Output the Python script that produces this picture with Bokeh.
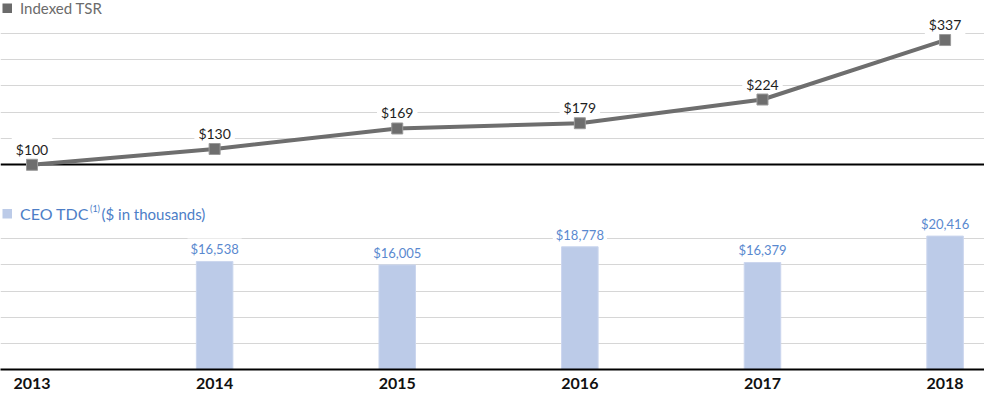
from bokeh.plotting import figure
from bokeh.models import Range1d, FixedTicker, Label, BoxAnnotation
from bokeh.embed import file_html
from bokeh.resources import INLINE
from bokeh.core.properties import value

# ---- data ----
years = [2013, 2014, 2015, 2016, 2017, 2018]
tsr = [100, 130, 169, 179, 224, 337]
tsr_labels = ["$100", "$130", "$169", "$179", "$224", "$337"]
tdc_years = [2014, 2015, 2016, 2017, 2018]
tdc = [16538, 16005, 18778, 16379, 20416]
tdc_labels = ["$16,538", "$16,005", "$18,778", "$16,379", "$20,416"]
tsr_grid = [150, 200, 250, 300, 350]
tdc_grid = [4000, 8000, 12000, 16000, 20000]

# ---- layout constants ----
FW = 984          # frame width
FH = 369          # frame height (bottom = TDC baseline)
PX_YEAR = 182.6
x_start = years[0] - 31.5 / PX_YEAR
x_end = years[-1] + (FW - 944.6) / PX_YEAR
tdc_top = FH * 20000 / 130.7
tsr_per_px = 250 / 131.6
tsr_lo = 100 - (FH - 164.3) * tsr_per_px
tsr_hi = 350 + 32.7 * tsr_per_px

FONT = "Lato"
GRID = "#d6d6d6"
LINE = "#6e6e6e"
BAR = "#bccbe8"
BLUE_TXT = "#5a89cf"
BLUE_LEG = "#4d7ec7"

p = figure(frame_width=FW, frame_height=FH, min_border=0,
           x_range=Range1d(x_start, x_end), y_range=Range1d(0, tdc_top),
           output_backend="svg", toolbar_location=None,
           x_axis_location="below", y_axis_location=None)
p.extra_y_ranges = {"tsr": Range1d(tsr_lo, tsr_hi)}
p.outline_line_color = None
p.grid.visible = False
p.background_fill_color = "white"
p.border_fill_color = "white"

# gridlines
p.hspan(y=tsr_grid, line_color=GRID, line_width=1.2, y_range_name="tsr")
p.hspan(y=[tsr[0]], line_color="black", line_width=2, y_range_name="tsr")
p.hspan(y=tdc_grid, line_color=GRID, line_width=1.2)

# bars
p.vbar(x=tdc_years, top=tdc, width=0.2, fill_color=BAR, line_color="#cbd6ee", line_width=1)
p.text(x=tdc_years, y=tdc, text=tdc_labels, text_align="center", text_baseline="bottom",
       y_offset=-1, text_color=BLUE_TXT, text_font=value(FONT), text_font_size="13px",
       background_fill_color="white", padding=3)

# TSR labels (under line)
p.text(x=years, y=tsr, text=tsr_labels, text_align="center", text_baseline="bottom",
       y_offset=-3, text_color="#1e1e1e", text_font=value(FONT), text_font_size="14px",
       background_fill_color="white", padding=4, y_range_name="tsr")

# TSR line
p.line(x=years, y=tsr, line_color=LINE, line_width=4, y_range_name="tsr")
p.scatter(x=years, y=tsr, marker="square", size=11, fill_color=LINE, line_color="#9a9a9a",
          line_width=1, y_range_name="tsr")

# axis
ax = p.xaxis[0]
ax.ticker = FixedTicker(ticks=years)
ax.axis_line_color = "black"
ax.axis_line_width = 2
ax.major_tick_line_color = None
ax.minor_tick_line_color = None
ax.major_label_standoff = 2
ax.major_label_text_font = FONT
ax.major_label_text_font_style = "bold"
ax.major_label_text_font_size = "16px"
ax.major_label_text_color = "#111111"

# legends
ty = FH - 7.7
p.add_layout(BoxAnnotation(left=2, right=11.5, bottom=ty - 4.7, top=ty + 4.7,
                           left_units="screen", right_units="screen",
                           bottom_units="screen", top_units="screen",
                           fill_color="#6b6b6b", fill_alpha=1, line_color=None))
p.add_layout(Label(x=19.5, y=ty, x_units="screen", y_units="screen", text="Indexed TSR",
                   text_baseline="middle", text_font=FONT, text_font_size="15px",
                   text_color="#6b6b6b"))

ly = FH - 213.3
p.add_layout(BoxAnnotation(left=2, right=11.5, bottom=ly - 4.7, top=ly + 4.7,
                           left_units="screen", right_units="screen",
                           bottom_units="screen", top_units="screen",
                           fill_color=BAR, fill_alpha=1, line_color=None))
p.add_layout(Label(x=19.5, y=ly, x_units="screen", y_units="screen", text="CEO TDC",
                   text_baseline="middle", text_font=FONT, text_font_size="16px",
                   text_color=BLUE_LEG))
p.add_layout(Label(x=89.5, y=ly + 5, x_units="screen", y_units="screen", text="(1)",
                   text_baseline="middle", text_font=FONT, text_font_size="9px",
                   text_color=BLUE_LEG))
p.add_layout(Label(x=101, y=ly, x_units="screen", y_units="screen", text="($ in thousands)",
                   text_baseline="middle", text_font=FONT, text_font_size="15px",
                   text_color=BLUE_LEG))

open("out.html", "w").write(file_html(p, INLINE))
